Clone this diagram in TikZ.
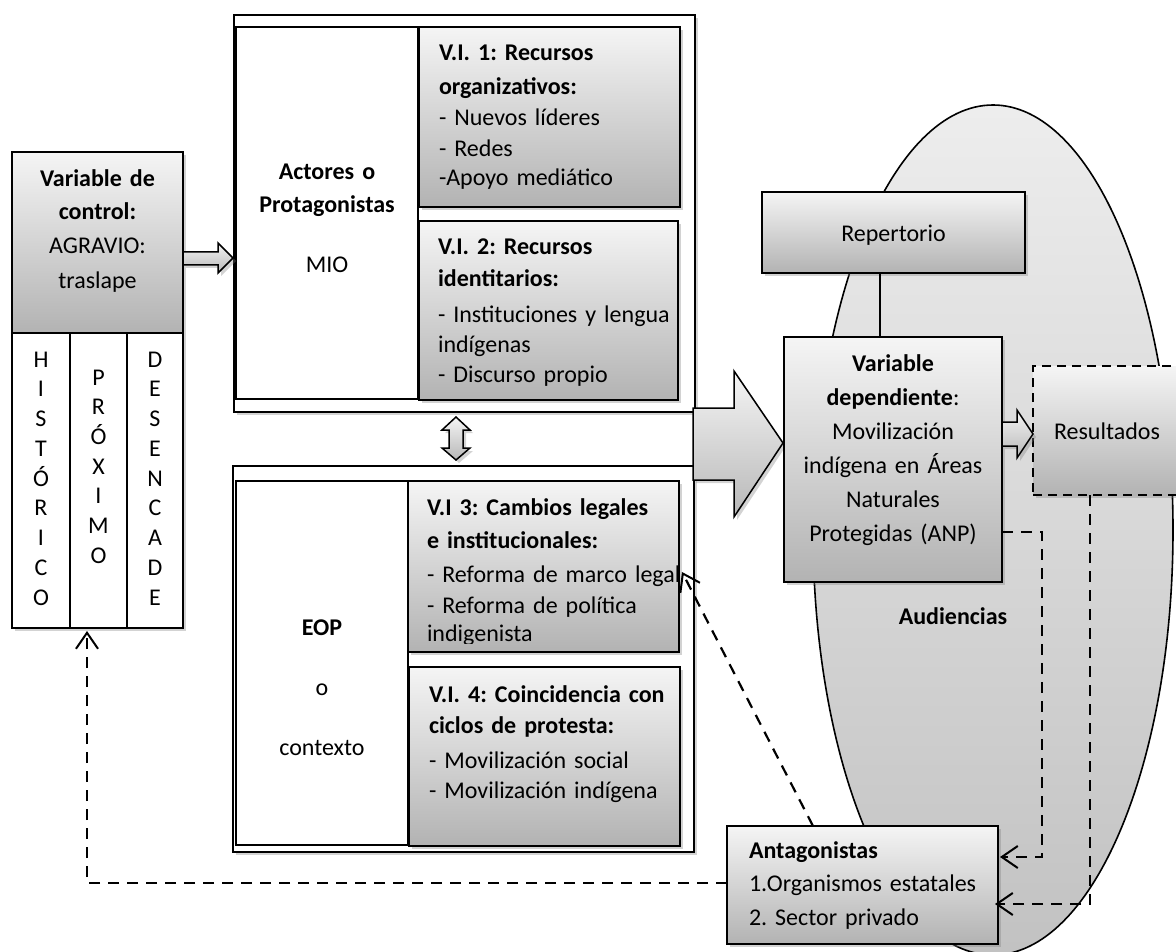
\documentclass[tikz,border=0pt]{standalone}
\usepackage{fontspec}
\setmainfont{Carlito}
\usetikzlibrary{arrows.meta,shadows,fit}
\begin{document}
\begin{tikzpicture}[x=1pt,y=-1pt,
  every node/.style={font=\fontsize{24}{31}\selectfont\frenchspacing},
  shd/.style={drop shadow={opacity=0.35,shadow xshift=3pt,shadow yshift=-3pt}},
  gbox/.style={draw, line width=1.6pt, top color=black!4, bottom color=black!30, shd, inner sep=0pt, outer sep=0pt},
  wbox/.style={draw, line width=1.3pt, fill=white, inner sep=0pt, outer sep=0pt},
  framebox/.style={draw, line width=1.6pt, fill=white, shd, inner sep=0pt, outer sep=0pt},
  blockarrow/.style={draw, line width=1.5pt, top color=black!4, bottom color=black!28, shd},
  txtl/.style={inner sep=0pt, outer sep=0pt, anchor=base west, align=left},
  txtc/.style={inner sep=0pt, outer sep=0pt, anchor=base, align=center},
  dline/.style={line width=2.2pt, dash pattern=on 11pt off 8pt},
  barb/.style={-{Straight Barb[length=16pt,width=22pt,line width=2pt]}},
  plainline/.style={line width=1.6pt}
]
\useasboundingbox (0,0) rectangle (1176,952);

% Audiencias ellipse
\draw[line width=1.6pt, top color=black!7, bottom color=black!24] (993,530) ellipse [x radius=180pt, y radius=425pt];

% Control variable box and columns
\node[gbox, fit={(12,152) (183,333)}] (cbox) {};
\node[wbox, shd, fit={(12,333) (70,628)}] (col1) {};
\node[wbox, shd, fit={(70,333) (127,628)}] (col2) {};
\node[wbox, shd, fit={(127,333) (183,628)}] (col3) {};
\node[txtc, text width=171pt] (cboxt) at (97.5,187) {\textbf{Variable de}\\[2pt]\textbf{control:}\\[3pt]AGRAVIO:\\[4pt]traslape};
\node[txtc, text width=50pt, font=\fontsize{24}{29.75}\selectfont] (col1t) at (41,367) {H\\I\\S\\T\\Ó\\R\\I\\C\\O};
\node[txtc, text width=50pt, font=\fontsize{24}{29.7}\selectfont] (col2t) at (98.5,385) {P\\R\\Ó\\X\\I\\M\\O};
\node[txtc, text width=50pt, font=\fontsize{24}{29.75}\selectfont] (col3t) at (155,367) {D\\E\\S\\E\\N\\C\\A\\D\\E};

% Actores frame
\node[framebox, fit={(234,15) (695,412)}] (fA) {};
\node[wbox, fit={(236,27) (418,399)}] (aL) {};
\node[gbox, fit={(419,27) (680,207)}] (vi1) {};
\node[gbox, fit={(419,221) (678,400)}] (vi2) {};
\node[txtc, text width=180pt] (aLt) at (327,180) {\textbf{Actores o}\\[2pt]\textbf{Protagonistas}\\[29pt]MIO};
\node[txtl, text width=250pt] (vi1t) at (439,61) {\textbf{V.I. 1: Recursos}\\[3pt]\textbf{organizativos:}\\- Nuevos líderes\\- Redes\\[-2pt]-Apoyo mediático};
\node[txtl, text width=250pt] (vi2t) at (438,255) {\textbf{V.I. 2: Recursos}\\[1pt]\textbf{identitarios:}\\[4pt]- Instituciones y lengua\\[-1pt]indígenas\\- Discurso propio};

% EOP frame
\node[framebox, fit={(233,466) (694,852)}] (fE) {};
\node[wbox, fit={(236,481) (408,845)}] (eL) {};
\node[gbox, fit={(408,481) (679,652)}] (vi3) {};
\node[gbox, fit={(409,667) (680,846)}] (vi4) {};
\node[txtc, text width=170pt] (eLt) at (322,635) {\textbf{EOP}\\[29pt]o\\[29pt]contexto};
\begin{scope}
\clip (408,481) rectangle (679,643);
\node[txtl, text width=260pt] (vi3t) at (427,515) {\textbf{V.I 3: Cambios legales}\\[2pt]\textbf{e institucionales:}\\[3pt]- Reforma de marco legal\\- Reforma de política\\[-3pt]indigenista};
\end{scope}
\node[txtl, text width=260pt] (vi4t) at (429,702) {\textbf{V.I. 4: Coincidencia con}\\\textbf{ciclos de protesta:}\\[4pt]- Movilización social\\[-1pt]- Movilización indígena};

% block arrows
\path[blockarrow] (183,252) -- (218,252) -- (218,243) -- (233,258) -- (218,273) -- (218,265) -- (183,265) -- cycle;
\path[blockarrow] (456,417) -- (470,430) -- (463,430) -- (463,448) -- (470,448) -- (456,460) -- (442,448) -- (449,448) -- (449,430) -- (442,430) -- cycle;
\path[blockarrow] (693,408) -- (734,408) -- (734,371) -- (783,443) -- (734,517) -- (734,480) -- (693,480) -- cycle;

% Repertorio and dependent variable
\node[gbox, fit={(762,192) (1025,273)}] (rep) {};
\node[txtc] (rept) at (893.5,242) {Repertorio};
\node[gbox, fit={(784,337) (1002,582)}] (vd) {};
\node[txtc, text width=218pt, font=\fontsize{24}{34}\selectfont\frenchspacing] (vdt) at (893,371) {\textbf{Variable}\\\textbf{dependiente}:\\Movilización\\indígena en Áreas\\Naturales\\Protegidas (ANP)};
\coordinate (c880) at (880,300);
\draw[plainline] (rep.south -| c880) -- (vd.north -| c880);

% Resultados
\node[gbox, dash pattern=on 9pt off 6pt, line width=1.8pt, fit={(1033,366) (1195,495)}] (res) {};
\node[txtc] (rest) at (1107,439) {Resultados};
\path[blockarrow] (1002,422) -- (1017,422) -- (1017,410) -- (1033,434) -- (1017,458) -- (1017,446) -- (1002,446) -- cycle;

\node[txtc] (aud) at (953,624) {\textbf{Audiencias}};

% Antagonistas
\node[gbox, fit={(727,826) (998,944)}] (ant) {};
\node[txtl, text width=260pt, font=\fontsize{24}{33.5}\selectfont\frenchspacing] (antt) at (749,858) {\textbf{Antagonistas}\\1.Organismos estatales\\2. Sector privado};

% dashed connectors
\coordinate (d1a) at (1042,532);
\coordinate (d1b) at (1042,857);
\draw[dline, barb] (vd.east |- d1a) -- (d1a) -- (d1b) -- ([xshift=2pt]ant.east |- d1b);
\coordinate (d2a) at (1090,904);
\draw[dline, barb] (res.south -| d2a) -- (d2a) -- ([xshift=-3pt]ant.east |- d2a);
\coordinate (d3a) at (87,883);
\draw[dline, barb, shorten >=3pt] (ant.west |- d3a) -- (d3a) -- (col2.south -| d3a);
\coordinate (d4a) at (813,826);
\coordinate (d4b) at (682,572);
\draw[dline, barb] (ant.north -| d4a) -- (d4b);
\end{tikzpicture}
\end{document}
